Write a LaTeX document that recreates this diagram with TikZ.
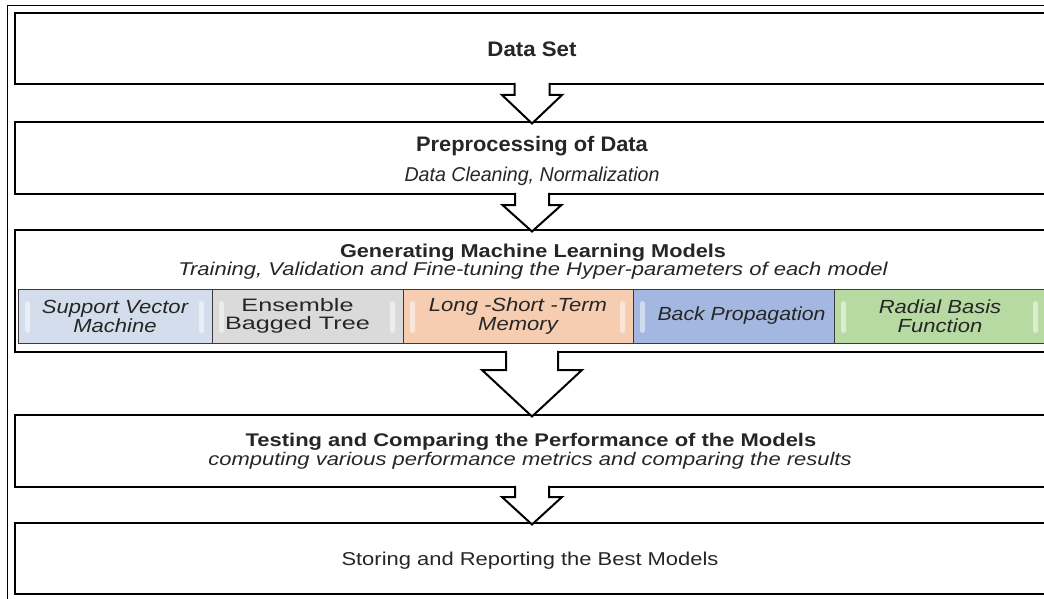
\documentclass[tikz,border=0pt]{standalone}
\usepackage{fontspec}
\setmainfont{Liberation Sans}
\usepackage{graphicx}
\usetikzlibrary{calc}
\newcommand{\hs}[2]{\scalebox{#1}[1]{#2}}
\newcommand{\fs}[1]{\fontsize{#1}{#1}\selectfont}
\definecolor{txt}{HTML}{262626}
\definecolor{modeledge}{HTML}{3A3A3A}
\definecolor{svm}{HTML}{D4DDEC}
\definecolor{ens}{HTML}{DADADA}
\definecolor{lstm}{HTML}{F6CDB1}
\definecolor{bp}{HTML}{A4B7E0}
\definecolor{rbf}{HTML}{B7D9A2}
\begin{document}
\begin{tikzpicture}[x=1pt,y=-1pt,
  box/.style={draw=black, line width=2.2pt, fill=white, outer sep=0pt, minimum width=1034pt, anchor=north west, inner sep=0pt},
  lbl/.style={anchor=base, inner sep=0pt, text=txt},
  model/.style={draw=modeledge, line width=0.8pt, anchor=north west, minimum height=54pt, inner sep=0pt, align=center, outer sep=0pt, font=\fs{19}\itshape, text=txt},
  shineL/.style={fill=white, opacity=0.5, rounded corners=2.5pt},
  shines/.style={path picture={
    \fill[shineL] ($(path picture bounding box.north west)+(7,12)$) rectangle ($(path picture bounding box.south west)+(12,-10)$);
    \fill[shineL] ($(path picture bounding box.north east)+(-13,12)$) rectangle ($(path picture bounding box.south east)+(-8,-10)$);}},
  shineleft/.style={path picture={
    \fill[shineL] ($(path picture bounding box.north west)+(7,12)$) rectangle ($(path picture bounding box.south west)+(12,-10)$);}},
  arrowline/.style={draw=black, line width=2pt, line join=miter}
]
\useasboundingbox (0,0) rectangle (1044,599);
\clip (0,0) rectangle (1044,599);
\coordinate (axis) at (532,0);
% outer frame
\draw[line width=1pt] (1060,6) -- (7,6) -- (7,610);
% boxes
\node[box, minimum height=71pt] (b1) at (15,13) {};
\node[box, minimum height=72pt] (b2) at (15,122) {};
\node[box, minimum height=122pt] (b3) at (15,230) {};
\node[box, minimum height=72pt] (b4) at (15,415) {};
\node[box, minimum height=71pt] (b5) at (15,523) {};
% texts
\node[lbl, font=\fs{21}\bfseries] (t1) at (532,57) {\hs{1.06}{Data Set}};
\node[lbl, font=\fs{21}\bfseries] (t2a) at (532,152) {\hs{1.04}{Preprocessing of Data}};
\node[lbl, font=\fs{20}\itshape] (t2b) at (532,181) {\hs{0.98}{Data Cleaning, Normalization}};
\node[lbl, font=\fs{18.6}\bfseries] (t3a) at (533,257) {\hs{1.167}{Generating Machine Learning Models}};
\node[lbl, font=\fs{18.5}\itshape] (t3b) at (533,275) {\hs{1.19}{Training, Validation and Fine-tuning the Hyper-parameters of each model}};
\node[lbl, font=\fs{18.3}\bfseries] (t4a) at (531,446) {\hs{1.2}{Testing and Comparing the Performance of the Models}};
\node[lbl, font=\fs{18.3}\itshape] (t4b) at (530,465) {\hs{1.2}{computing various performance metrics and comparing the results}};
\node[lbl, font=\fs{18.6}] (t5) at (530,565) {\hs{1.18}{Storing and Reporting the Best Models}};
% model row
\node[model, shines, fill=svm, minimum width=194pt] (m1) at (18,289) {\hs{1.16}{Support Vector}\\\hs{1.16}{Machine}};
\node[model, shines, fill=ens, minimum width=191pt, font=\fs{18}] (m2) at (212,289) {\hs{1.4}{Ensemble}\hspace*{20pt}\\\hs{1.4}{Bagged Tree}\hspace*{20pt}};
\node[model, shines, fill=lstm, minimum width=230pt] (m3) at (403,289) {\hs{1.16}{Long -Short -Term}\\\hs{1.16}{Memory}};
\node[model, shineleft, fill=bp, minimum width=201pt] (m4) at (633,289) {\hspace*{16pt}\hs{1.12}{Back Propagation}};
\node[model, shines, fill=rbf, minimum width=212pt] (m5) at (834,289) {\hs{1.16}{Radial Basis}\\\hs{1.16}{Function}};
% block arrows
\newcommand{\blockarrow}[5]{%
  \coordinate (ta) at (axis |- #1.south);
  \coordinate (ha) at (axis |- #2.north);
  \fill[white] ($(ta)+(-#3,-2.5)$) -- ($(ta)+(-#3,#5)$) -- ($(ta)+(-#4,#5)$) -- ($(ha)+(0,1.5)$) -- ($(ta)+(#4,#5)$) -- ($(ta)+(#3,#5)$) -- ($(ta)+(#3,-2.5)$) -- cycle;
  \draw[arrowline] ($(ta)+(-#3,-1.1)$) -- ($(ta)+(-#3,#5)$) -- ($(ta)+(-#4,#5)$) -- ($(ha)+(0,1.5)$) -- ($(ta)+(#4,#5)$) -- ($(ta)+(#3,#5)$) -- ($(ta)+(#3,-1.1)$);
}
\blockarrow{b1}{b2}{17.5}{30}{11}
\blockarrow{b2}{b3}{17}{29.5}{11}
\blockarrow{b3}{b4}{26}{50}{18}
\blockarrow{b4}{b5}{17}{30}{10}
\end{tikzpicture}
\end{document}
